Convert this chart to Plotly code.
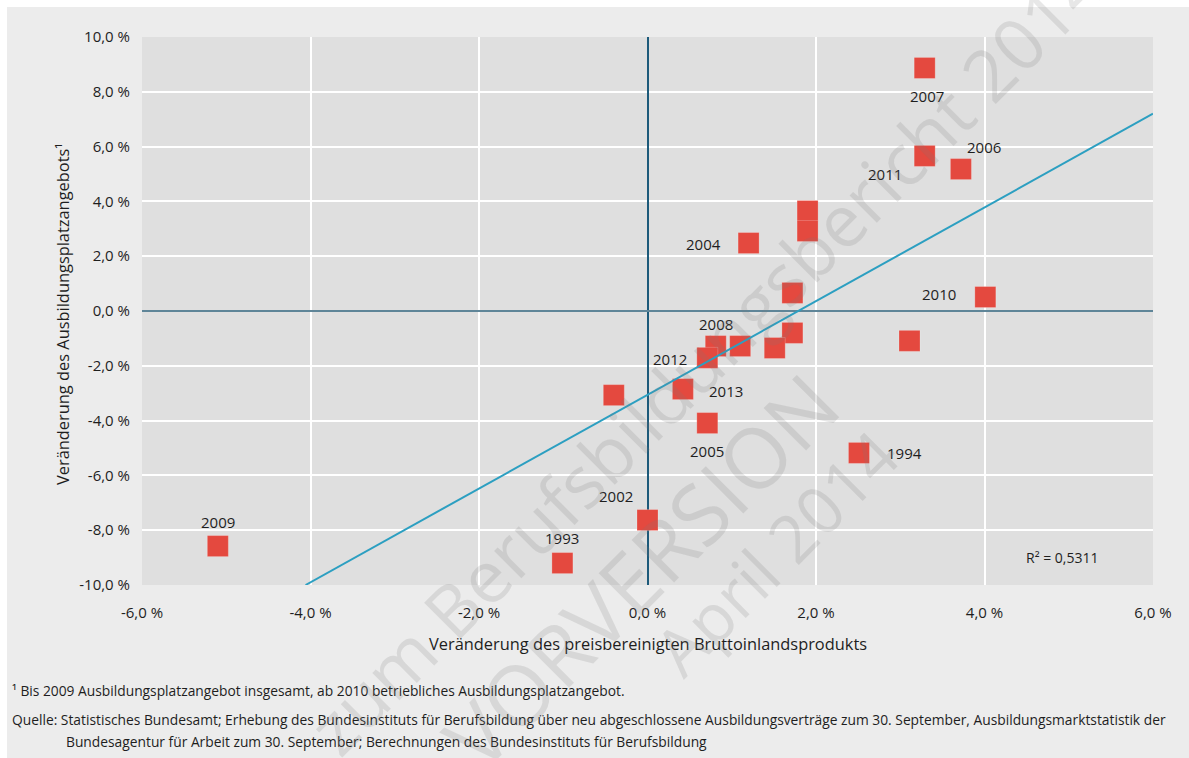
import numpy as np
import plotly.graph_objects as go

# ---------------- data ----------------
years = [1993, 1994, 1995, 1996, 1997, 1998, 1999, 2000, 2001, 2002, 2003,
         2004, 2005, 2006, 2007, 2008, 2009, 2010, 2011, 2012, 2013]
gdp_change = [-1.01, 2.51, 1.72, 1.10, 1.72, 1.90, 1.90, 3.11, 1.51, 0.00, -0.40,
              1.20, 0.71, 3.72, 3.29, 0.81, -5.10, 4.01, 3.29, 0.71, 0.42]
offer_change = [-9.20, -5.18, -0.80, -1.28, 0.66, 3.65, 2.92, -1.09, -1.35, -7.63, -3.07,
                2.48, -4.09, 5.18, 8.87, -1.28, -8.58, 0.51, 5.66, -1.71, -2.85]
labelled_years = [1993, 1994, 2002, 2004, 2005, 2006, 2007, 2008, 2009, 2010, 2011, 2012, 2013]

trend_slope = 1.71
trend_intercept = -3.06
r_squared_text = "R² = 0,5311"

x_ticks = [-6, -4, -2, 0, 2, 4, 6]
x_tick_text = ["-6,0 %", "-4,0 %", "-2,0 %", "0,0 %", "2,0 %", "4,0 %", "6,0 %"]
y_ticks = [10, 8, 6, 4, 2, 0, -2, -4, -6, -8, -10]
y_tick_text = ["10,0 %", "8,0 %", "6,0 %", "4,0 %", "2,0 %", "0,0 %", "-2,0 %",
               "-4,0 %", "-6,0 %", "-8,0 %", "-10,0 %"]

x_title = "Veränderung des preisbereinigten Bruttoinlandsprodukts"
y_title = "Veränderung des Ausbildungsplatzangebots¹"
footnote_1 = "¹ Bis 2009 Ausbildungsplatzangebot insgesamt, ab 2010 betriebliches Ausbildungsplatzangebot."
source_1 = ("Quelle: Statistisches Bundesamt; Erhebung des Bundesinstituts für Berufsbildung über neu "
            "abgeschlossene Ausbildungsverträge zum 30. September, Ausbildungsmarktstatistik der")
source_2 = "Bundesagentur für Arbeit zum 30. September; Berechnungen des Bundesinstituts für Berufsbildung"
watermarks = ["zum Berufsbildungsbericht 2014", "VORVERSION", "April 2014"]

# ---------------- styling / positions ----------------
FONT = "Open Sans, Liberation Sans, DejaVu Sans, sans-serif"
TXT = "#1e1e1e"
RED = "#e4493f"
label_offsets = {  # pixel offsets of year labels relative to the marker
    1993: (0, -25), 1994: (46, 0), 2002: (-32, -24), 2004: (-45, 1), 2005: (0, 28),
    2006: (23, -22), 2007: (2, 28), 2008: (0, -22), 2009: (0, -24), 2010: (-46, -3),
    2011: (-40, 18), 2012: (-37, 1), 2013: (43, 2),
}

W, H = 1189, 758
ML, MR, MT, MB = 142, 36, 37, 173
PW, PH = W - ML - MR, H - MT - MB


def px_x(px):
    return (px - ML) / PW


def px_y(py):
    return (H - MB - py) / PH


fig = go.Figure()

fig.add_trace(go.Scatter(
    x=gdp_change, y=offer_change, mode="markers",
    marker=dict(symbol="square", size=21, color=RED, line=dict(width=0.6, color="rgba(255,255,255,0.35)")),
    text=[str(y) for y in years], hoverinfo="text", showlegend=False, cliponaxis=False,
))

x_start = (-10 - trend_intercept) / trend_slope
tx = np.array([x_start, 6.0])
fig.add_trace(go.Scatter(
    x=tx, y=trend_slope * tx + trend_intercept, mode="lines",
    line=dict(color="#2c9fc1", width=2), hoverinfo="skip", showlegend=False,
))

annotations = []
for yr, gx, oy in zip(years, gdp_change, offer_change):
    if yr in labelled_years:
        dx, dy = label_offsets[yr]
        annotations.append(dict(
            x=gx, y=oy, xref="x", yref="y", text=str(yr), showarrow=True,
            arrowcolor="rgba(0,0,0,0)", ax=dx, ay=dy, xanchor="center", yanchor="middle",
            font=dict(family=FONT, size=15, color=TXT),
        ))

annotations.append(dict(x=px_x(1062), y=px_y(557), xref="paper", yref="paper", text=r_squared_text,
                        showarrow=False, xanchor="center", yanchor="middle",
                        font=dict(family=FONT, size=14, color=TXT)))
annotations.append(dict(x=0.5, y=px_y(643), xref="paper", yref="paper", text=x_title,
                        showarrow=False, xanchor="center", yanchor="middle",
                        font=dict(family=FONT, size=16.4, color=TXT)))
annotations.append(dict(x=px_x(62), y=px_y(314), xref="paper", yref="paper", text=y_title,
                        showarrow=False, xanchor="center", yanchor="middle", textangle=-90,
                        font=dict(family=FONT, size=16.4, color=TXT)))
for txt, x0, y0 in [(footnote_1, 10, 690), (source_1, 10, 719), (source_2, 64, 741)]:
    annotations.append(dict(x=px_x(x0), y=px_y(y0), xref="paper", yref="paper", text=txt,
                            showarrow=False, xanchor="left", yanchor="middle",
                            font=dict(family=FONT, size=13.8, color=TXT)))

# watermark
for txt, cx, cy, fs in [(watermarks[0], 705, 355, 72), (watermarks[1], 640, 570, 84), (watermarks[2], 775, 552, 66)]:
    annotations.append(dict(x=px_x(cx), y=px_y(cy), xref="paper", yref="paper", text=txt,
                            showarrow=False, xanchor="center", yanchor="middle", textangle=-45,
                            font=dict(family=FONT, size=fs, color="rgba(120,120,120,0.18)")))

shapes = [
    dict(type="rect", xref="paper", yref="paper", x0=px_x(-10), x1=px_x(W + 10), y0=px_y(7), y1=px_y(-10),
         fillcolor="white", line=dict(width=0), layer="above"),
    dict(type="rect", xref="paper", yref="paper", x0=px_x(-10), x1=px_x(7), y0=px_y(H + 10), y1=px_y(-10),
         fillcolor="white", line=dict(width=0), layer="above"),
]

fig.update_layout(
    width=W, height=H, margin=dict(l=ML, r=MR, t=MT, b=MB, pad=0),
    paper_bgcolor="#ececec", plot_bgcolor="#dfdfdf",
    annotations=annotations, shapes=shapes, showlegend=False,
    xaxis=dict(range=[-6, 6], tickvals=x_ticks, ticktext=x_tick_text, showgrid=True,
               gridcolor="white", gridwidth=1.5, zeroline=True, zerolinecolor="#1d5a7a", zerolinewidth=1.5,
               ticks="outside", ticklen=14, tickcolor="rgba(0,0,0,0)", showline=False,
               tickfont=dict(family=FONT, size=15, color=TXT), fixedrange=True),
    yaxis=dict(range=[-10, 10], tickvals=y_ticks, ticktext=y_tick_text, showgrid=True,
               gridcolor="white", gridwidth=1.5, zeroline=True, zerolinecolor="#5f8598", zerolinewidth=2,
               ticks="outside", ticklen=8, tickcolor="rgba(0,0,0,0)", showline=False,
               tickfont=dict(family=FONT, size=15, color=TXT), fixedrange=True),
)

fig.write_html("out.html")
